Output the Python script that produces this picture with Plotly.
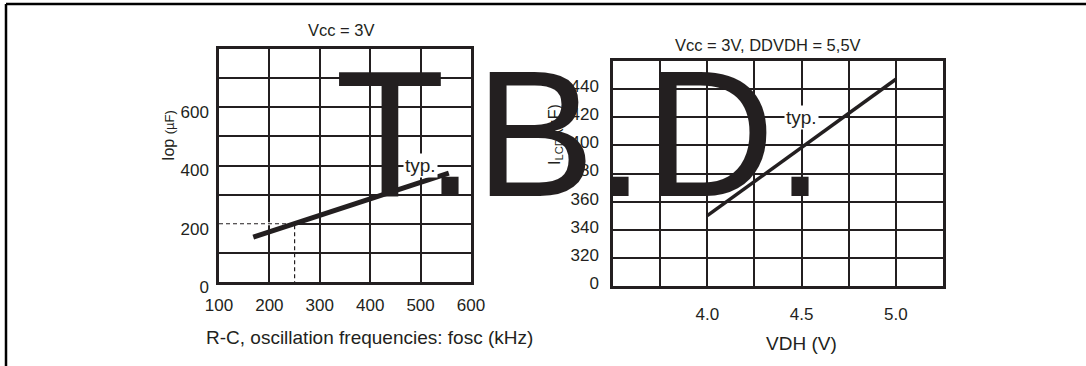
import plotly.graph_objects as go

W, H = 1086, 366
INK = "#231f20"
FONT = "Liberation Sans, Arial, sans-serif"

# left chart: Iop vs R-C oscillation frequency
fosc_ticks = [100, 200, 300, 400, 500, 600]
iop_grid = [0, 100, 200, 300, 400, 500, 600, 700, 800]
iop_labels = ["0", "", "200", "", "400", "", "600", "", ""]
fosc_typ = [168, 556]
iop_typ = [154, 374]
guide_fosc = 250
guide_iop = 200

# right chart: ILCD vs VDH (broken axis, bottom line is labelled 0)
vdh_grid = [3.5, 3.75, 4.0, 4.25, 4.5, 4.75, 5.0, 5.25]
vdh_labels = ["", "", "4.0", "", "4.5", "", "5.0", ""]
ilcd_grid = [300, 320, 340, 360, 380, 400, 420, 440, 460]
ilcd_labels = ["0", "320", "340", "360", "380", "400", "420", "440", ""]
vdh_typ = [4.0, 5.0]
ilcd_typ = [350, 447]


def px(x):
    return x / W


def py(y):
    return 1 - y / H


fig = go.Figure()

# dashed guide to the 200 point: blank out the gridline under it first
fig.add_trace(go.Scatter(
    x=[fosc_ticks[0], guide_fosc], y=[guide_iop, guide_iop],
    mode="lines", line=dict(color="white", width=3),
    xaxis="x", yaxis="y", hoverinfo="skip"))
fig.add_trace(go.Scatter(
    x=[fosc_ticks[0], guide_fosc, guide_fosc],
    y=[guide_iop, guide_iop, iop_grid[0]],
    mode="lines", line=dict(color=INK, width=1.2, dash="4px,3px"),
    xaxis="x", yaxis="y", hoverinfo="skip"))

fig.add_trace(go.Scatter(
    x=fosc_typ, y=iop_typ, mode="lines",
    line=dict(color=INK, width=5), xaxis="x", yaxis="y"))

fig.add_trace(go.Scatter(
    x=vdh_typ, y=ilcd_typ, mode="lines",
    line=dict(color=INK, width=3.5), xaxis="x2", yaxis="y2"))

axis_common = dict(
    showgrid=True, gridcolor=INK, gridwidth=2,
    showline=True, mirror=True, linecolor=INK, linewidth=2.5,
    ticks="", zeroline=False, fixedrange=True, tickmode="array",
    automargin=False,
    tickfont=dict(family=FONT, size=17, color=INK),
)

fig.update_layout(
    width=W, height=H,
    margin=dict(l=0, r=0, t=0, b=0, autoexpand=False),
    paper_bgcolor="white", plot_bgcolor="white",
    showlegend=False,
    xaxis=dict(axis_common, domain=[px(219), px(471)], range=[100, 600],
               tickvals=fosc_ticks, ticktext=[str(v) for v in fosc_ticks],
               anchor="y", ticklabelstandoff=6),
    yaxis=dict(axis_common, domain=[py(282), py(49)], range=[0, 800],
               tickvals=iop_grid, ticktext=iop_labels,
               anchor="x", ticklabelshift=5, ticklabelstandoff=4),
    xaxis2=dict(axis_common, domain=[px(613), px(943)], range=[3.5, 5.25],
                tickvals=vdh_grid, ticktext=vdh_labels,
                anchor="y2", ticklabelstandoff=11),
    yaxis2=dict(axis_common, domain=[py(286), py(61)], range=[300, 460],
                tickvals=ilcd_grid, ticktext=ilcd_labels,
                anchor="x2", ticklabelshift=-3, ticklabelstandoff=8),
)

txt = dict(family=FONT, color=INK)
ann = [
    dict(text="Vcc = 3V", x=px(342), y=py(30), font=dict(txt, size=16.5)),
    dict(text="Vcc = 3V, DDVDH = 5,5V", x=px(768), y=py(45), font=dict(txt, size=16.5)),
    dict(text="R-C, oscillation frequencies: fosc (kHz)", x=px(369), y=py(337),
         font=dict(txt, size=19)),
    dict(text="VDH (V)", x=px(801), y=py(343), font=dict(txt, size=19)),
    dict(text="Iop <span style='font-size:13px'>(µF)</span>", x=px(168), y=py(136),
         textangle=-90, font=dict(txt, size=16)),
    dict(text="I<sub>LCD</sub> (µF)", x=px(555), y=py(135),
         textangle=-90, font=dict(txt, size=16)),
]
for a in ann:
    a.update(xref="paper", yref="paper", showarrow=False,
             xanchor="center", yanchor="middle")
    fig.add_annotation(**a)

fig.add_annotation(text="typ.", x=500, y=400, xref="x", yref="y", showarrow=False,
                   bgcolor="white", borderpad=1, font=dict(txt, size=19))
fig.add_annotation(text="typ.", x=4.5, y=420, xref="x2", yref="y2", showarrow=False,
                   bgcolor="white", borderpad=1, font=dict(txt, size=19))

# big overlay stamp
fig.add_annotation(text="T.B.D.", x=px(580), y=py(133), xref="paper", yref="paper",
                   showarrow=False, xanchor="center", yanchor="middle",
                   font=dict(family=FONT, size=180, color=INK))

# page frame (left and top edges)
fig.add_shape(type="line", xref="paper", yref="paper", x0=px(6), x1=px(6), y0=0, y1=py(4),
              line=dict(color="black", width=2.5))
fig.add_shape(type="line", xref="paper", yref="paper", x0=px(6), x1=1, y0=py(4), y1=py(4),
              line=dict(color="black", width=2.5))

fig.write_html("out.html", config={"displayModeBar": False},
               post_script="document.body.style.margin = '0';")
